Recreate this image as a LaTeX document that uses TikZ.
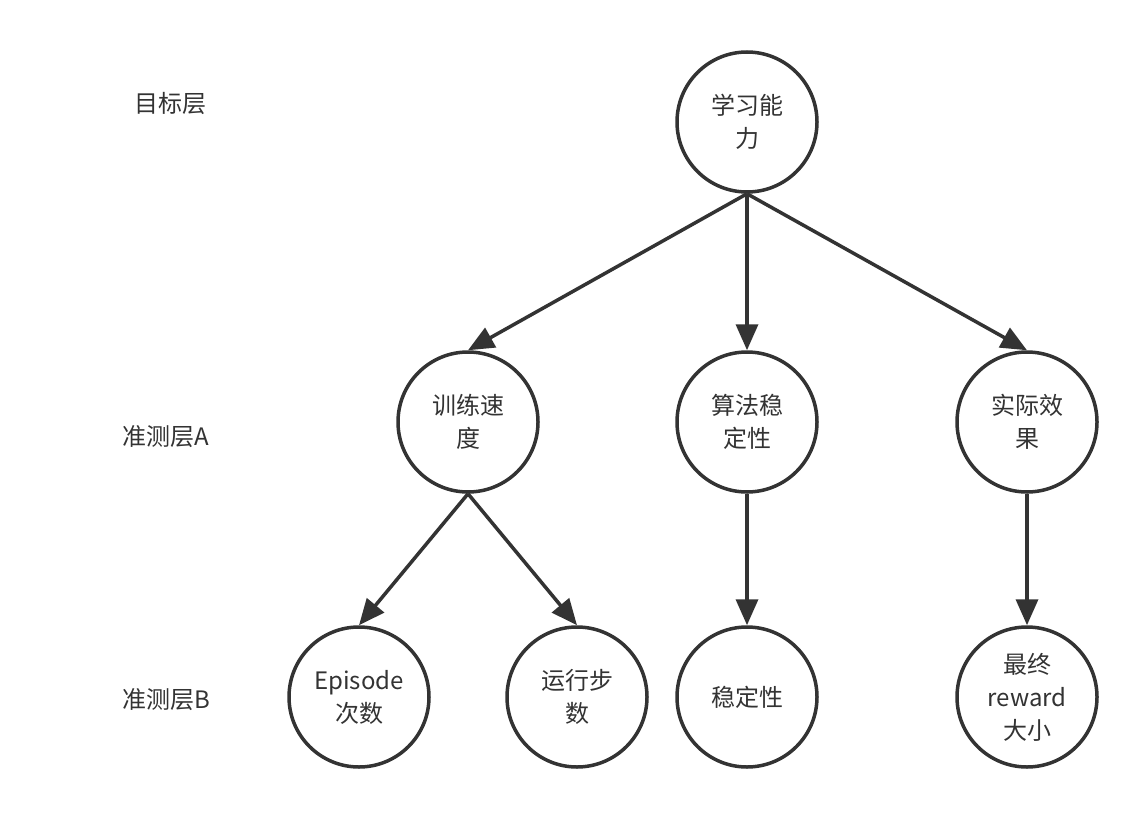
\documentclass[tikz,border=0pt]{standalone}
\usepackage{fontspec}
\newfontfamily\cjk{Noto Sans CJK SC}
\usetikzlibrary{arrows.meta}
\definecolor{ink}{HTML}{333333}
\tikzset{
  circ/.style={circle, draw=ink, line width=3.5pt, minimum size=140pt, inner sep=0pt,
    align=center, text=ink, font=\cjk\fontsize{24pt}{33pt}\selectfont},
  lbl/.style={text=ink, font=\cjk\fontsize{24pt}{33pt}\selectfont, inner sep=0pt},
  conn/.style={draw=ink, line width=3.5pt, -{Triangle[length=26pt,width=22pt]}}
}
\begin{document}
\begin{tikzpicture}[x=1pt,y=-1pt]
\useasboundingbox (0,0) rectangle (1148,816);
\node[lbl] (L0) at (170,103) {目标层};
\node[lbl] (L1) at (166,437) {准测层A};
\node[lbl] (L2) at (166,700) {准测层B};

\node[circ] (top) at (747,122) {学习能\\力};
\node[circ] (a1) at (468,422) {训练速\\度};
\node[circ] (a2) at (747,422) {算法稳\\定性};
\node[circ] (a3) at (1027,422) {实际效\\果};
\node[circ] (b1) at (359,697) {Episode\\次数};
\node[circ] (b2) at (577,697) {运行步\\数};
\node[circ] (b3) at (747,697) {稳定性};
\node[circ] (b4) at (1027,697) {最终\\reward\\大小};

\draw[conn] (top.south) -- (a1.north);
\draw[conn] (top.south) -- (a2.north);
\draw[conn] (top.south) -- (a3.north);
\draw[conn] (a1.south) -- (b1.north);
\draw[conn] (a1.south) -- (b2.north);
\draw[conn] (a2.south) -- (b3.north);
\draw[conn] (a3.south) -- (b4.north);
\end{tikzpicture}
\end{document}
